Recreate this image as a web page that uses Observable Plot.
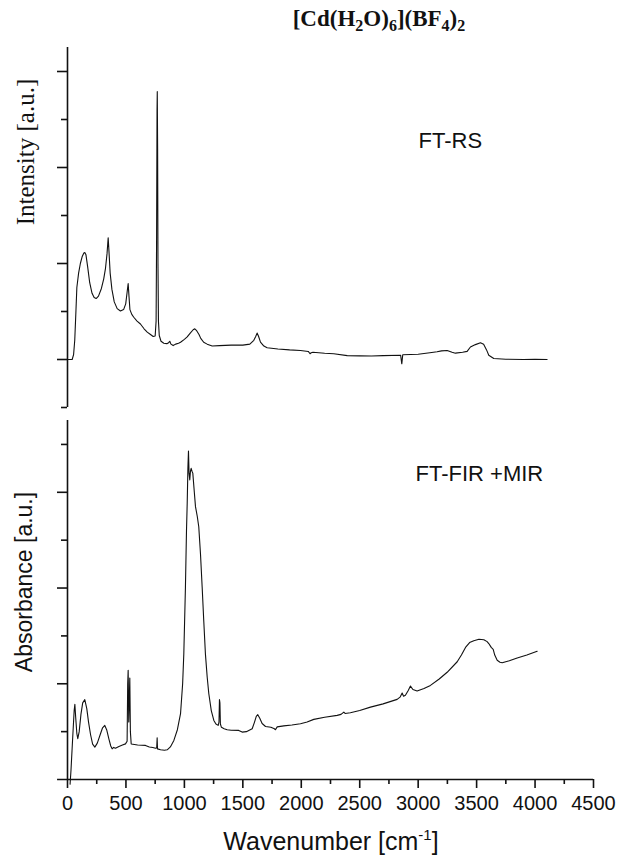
<!DOCTYPE html>
<html>
<head>
<meta charset="utf-8">
<script src="https://cdn.jsdelivr.net/npm/d3@7"></script>
<script src="https://cdn.jsdelivr.net/npm/@observablehq/plot@0.6"></script>
<style>
  html, body { margin: 0; padding: 0; background: #fff; }
  #fig { position: relative; width: 620px; height: 861px; background: #fff; overflow: hidden; }
  #fig svg { position: absolute; left: 0; }
  .lbl { position: absolute; white-space: nowrap; color: #111; line-height: 1; }
  .title { font-family: "Liberation Serif", serif; font-weight: bold; font-size: 23px; left: 379px; top: 7px; transform: translateX(-50%); }
  .title sub { font-size: 16px; vertical-align: -5px; }
  .ylab { transform: translate(-50%, -50%) rotate(-90deg); }
  .xlab { font-family: "Liberation Sans", Arial, sans-serif; font-size: 25px; left: 331px; top: 827px; transform: translateX(-50%); }
  .xlab sup { font-size: 15px; vertical-align: 10px; }
</style>
</head>
<body>
<div id="fig"></div>
<script>
// FT-Raman spectrum (upper panel): Raman shift in cm^-1 and intensity in a.u.
const ramanShift = [0, 40, 52, 62, 72, 80, 95, 110, 125, 140, 148, 158, 172, 190, 210, 228, 245, 265, 290, 310,
  325, 338, 348, 356, 365, 380, 400, 425, 453, 480, 498, 510, 519, 526, 534, 550, 567, 595, 624, 655,
  682, 710, 733, 750, 758, 762, 766, 768, 771, 774, 778, 785, 800, 824, 850, 865, 875, 885, 904, 925,
  950, 967, 1000, 1024, 1050, 1075, 1089, 1105, 1125, 1140, 1165, 1195, 1238, 1300, 1400, 1500, 1560, 1594, 1610, 1622,
  1635, 1651, 1680, 1708, 1800, 1900, 1993, 2060, 2075, 2085, 2100, 2200, 2278, 2393, 2500, 2600, 2700, 2850, 2860, 2868,
  3000, 3100, 3162, 3200, 3248, 3290, 3319, 3380, 3419, 3447, 3490, 3533, 3560, 3585, 3604, 3647, 3750, 3900, 4000, 4103];
const ramanIntensity = [0, 0, 0.05, 0.2, 0.5, 0.75, 0.9, 1.0, 1.07, 1.11, 1.115, 1.09, 0.97, 0.8, 0.69, 0.645, 0.635, 0.66, 0.74, 0.84,
  0.95, 1.1, 1.268, 1.1, 0.9, 0.73, 0.6, 0.53, 0.505, 0.52, 0.58, 0.7, 0.79, 0.66, 0.52, 0.47, 0.44, 0.4, 0.37, 0.32,
  0.285, 0.26, 0.24, 0.245, 0.4, 1.2, 2.6, 2.79, 2.2, 1.0, 0.4, 0.25, 0.19, 0.17, 0.165, 0.175, 0.19, 0.16, 0.145, 0.16,
  0.17, 0.18, 0.21, 0.235, 0.275, 0.31, 0.32, 0.3, 0.26, 0.22, 0.18, 0.16, 0.14, 0.145, 0.15, 0.15, 0.16, 0.2, 0.24, 0.275,
  0.24, 0.181, 0.14, 0.122, 0.11, 0.1, 0.094, 0.084, 0.06, 0.07, 0.075, 0.065, 0.06, 0.04, 0.038, 0.036, 0.04, 0.045, -0.045, 0.05,
  0.055, 0.07, 0.08, 0.09, 0.094, 0.075, 0.066, 0.075, 0.085, 0.13, 0.155, 0.175, 0.16, 0.1, 0.045, 0.01, 0.003, 0, 0.002, 0];

// FT-FIR + MIR absorption spectrum (lower panel): wavenumber in cm^-1 and absorbance in a.u.
const irWavenumber = [22, 30, 45, 57, 63, 70, 80, 88, 100, 115, 130, 148, 165, 180, 197, 215, 234, 255, 280, 300,
  319, 335, 355, 370, 382, 395, 410, 440, 470, 496, 510, 515, 519, 524, 528, 533, 538, 545, 600, 667,
  700, 730, 753, 763, 767, 770, 796, 830, 853, 880, 910, 940, 967, 985, 995, 1009, 1018, 1024, 1030, 1035,
  1040, 1046, 1052, 1058, 1065, 1072, 1085, 1095, 1110, 1123, 1138, 1152, 1166, 1180, 1195, 1209, 1230, 1252, 1270, 1289,
  1296, 1300, 1304, 1308, 1317, 1340, 1366, 1400, 1465, 1494, 1530, 1580, 1600, 1615, 1628, 1645, 1665, 1694, 1740, 1770,
  1779, 1794, 1850, 1920, 1993, 2050, 2107, 2200, 2307, 2340, 2364, 2375, 2420, 2500, 2592, 2700, 2820, 2845, 2863, 2875,
  2891, 2915, 2934, 2955, 2991, 3050, 3105, 3180, 3248, 3334, 3370, 3405, 3440, 3476, 3520, 3562, 3590, 3604, 3625, 3642,
  3655, 3676, 3700, 3719, 3780, 3847, 3930, 4018];
const irAbsorbance = [-0.05, 0.1, 0.45, 0.72, 0.785, 0.65, 0.48, 0.426, 0.5, 0.68, 0.8, 0.834, 0.74, 0.6, 0.47, 0.37, 0.338, 0.38, 0.47, 0.54,
  0.565, 0.52, 0.42, 0.35, 0.32, 0.335, 0.327, 0.345, 0.36, 0.372, 0.4, 1.0, 1.14, 0.6, 0.8, 1.06, 0.5, 0.37, 0.36, 0.356,
  0.34, 0.335, 0.327, 0.33, 0.436, 0.32, 0.31, 0.305, 0.31, 0.34, 0.408, 0.52, 0.687, 1.0, 1.31, 2.01, 2.6, 2.88, 3.25, 3.43,
  3.2, 3.13, 3.22, 3.25, 3.22, 3.2, 3.0, 2.85, 2.75, 2.64, 2.35, 2.01, 1.65, 1.31, 1.07, 0.896, 0.72, 0.617, 0.58, 0.565,
  0.6, 0.834, 0.8, 0.58, 0.545, 0.53, 0.52, 0.515, 0.513, 0.495, 0.5, 0.53, 0.6, 0.66, 0.677, 0.64, 0.585, 0.554, 0.545, 0.53,
  0.52, 0.55, 0.56, 0.57, 0.583, 0.6, 0.628, 0.65, 0.67, 0.68, 0.704, 0.69, 0.697, 0.72, 0.756, 0.79, 0.837, 0.86, 0.903, 0.87,
  0.88, 0.93, 0.976, 0.94, 0.924, 0.95, 0.983, 1.05, 1.12, 1.23, 1.3, 1.38, 1.43, 1.45, 1.465, 1.46, 1.44, 1.42, 1.38, 1.36,
  1.3, 1.245, 1.225, 1.22, 1.24, 1.27, 1.3, 1.34];

// Axis ticks
const xMajorTicks = [0, 500, 1000, 1500, 2000, 2500, 3000, 3500, 4000, 4500];
const xMinorTicks = [250, 750, 1250, 1750, 2250, 2750, 3250, 3750, 4250];
const ramanMajorTicks = [0, 1, 2, 3];
const ramanMinorTicks = [-0.5, 0.5, 1.5, 2.5];
const irMajorTicks = [1, 2, 3];
const irMinorTicks = [0.5, 1.5, 2.5, 3.5];

const raman = ramanShift.map((x, i) => ({x, y: ramanIntensity[i]}));
const ir = irWavenumber.map((x, i) => ({x, y: irAbsorbance[i]}));

const ink = "#111";
const sans = "'Liberation Sans', Arial, sans-serif";
const xDomain = [0, 4500];

const upper = Plot.plot({
  width: 620, height: 420,
  marginTop: 47, marginBottom: 13, marginLeft: 67, marginRight: 27,
  style: {fontFamily: sans, background: "transparent", overflow: "visible"},
  x: {domain: xDomain, axis: null},
  y: {domain: [-0.5, 3.25], axis: null},
  marks: [
    Plot.ruleX([0], {y1: -0.5, y2: 3.25, stroke: ink, strokeWidth: 1.6}),
    Plot.axisY(ramanMajorTicks, {anchor: "left", label: null, tickSize: 10, tickFormat: () => "", stroke: ink, strokeWidth: 1.6}),
    Plot.axisY(ramanMinorTicks, {anchor: "left", label: null, tickSize: 6, tickFormat: () => "", stroke: ink, strokeWidth: 1.6}),
    Plot.line(raman, {x: "x", y: "y", stroke: ink, strokeWidth: 1.1}),
    Plot.text(["FT-RS"], {frameAnchor: "top-left", dx: 351, dy: 93, textAnchor: "start", lineAnchor: "middle", fontSize: 22, fontFamily: sans, fill: ink})
  ]
});
upper.style.top = "0px";

const lower = Plot.plot({
  width: 620, height: 451,
  marginTop: 10, marginBottom: 82, marginLeft: 67, marginRight: 27,
  style: {fontFamily: sans, background: "transparent", overflow: "visible"},
  x: {domain: xDomain, axis: null},
  y: {domain: [0, 3.75], axis: null},
  marks: [
    Plot.ruleX([0], {y1: 0, y2: 3.75, stroke: ink, strokeWidth: 1.6}),
    Plot.ruleY([0], {x1: -85, x2: 4500, stroke: ink, strokeWidth: 1.6}),
    Plot.axisY(irMajorTicks, {anchor: "left", label: null, tickSize: 10, tickFormat: () => "", stroke: ink, strokeWidth: 1.6}),
    Plot.axisY(irMinorTicks, {anchor: "left", label: null, tickSize: 6, tickFormat: () => "", stroke: ink, strokeWidth: 1.6}),
    Plot.axisX(xMajorTicks, {anchor: "bottom", label: null, tickSize: 9, tickFormat: () => "", stroke: ink, strokeWidth: 1.6}),
    Plot.axisX(xMinorTicks, {anchor: "bottom", label: null, tickSize: 5, tickFormat: () => "", stroke: ink, strokeWidth: 1.6}),
    // tick labels as a text mark so their font size can be set freely
    Plot.text(xMajorTicks, {x: d => d, frameAnchor: "bottom", dy: 24, text: d => String(d), fontSize: 20, fontFamily: sans, fill: ink, lineAnchor: "middle"}),
    Plot.line(ir, {x: "x", y: "y", stroke: ink, strokeWidth: 1.1}),
    Plot.text(["FT-FIR +MIR"], {frameAnchor: "top-left", dx: 348, dy: 53, textAnchor: "start", lineAnchor: "middle", fontSize: 22, fontFamily: sans, fill: ink})
  ]
});
lower.style.top = "410px";

const fig = document.getElementById("fig");
fig.append(upper, lower);

function addLabel(html, cls, css) {
  const d = document.createElement("div");
  d.className = "lbl " + cls;
  d.innerHTML = html;
  Object.assign(d.style, css || {});
  fig.append(d);
}
addLabel("[Cd(H<sub>2</sub>O)<sub>6</sub>](BF<sub>4</sub>)<sub>2</sub>", "title");
addLabel("Intensity [a.u.]", "ylab", {left: "25px", top: "152px", fontFamily: "'Liberation Serif', serif", fontSize: "25px"});
addLabel("Absorbance [a.u.]", "ylab", {left: "24px", top: "582px", fontFamily: sans, fontSize: "23px"});
addLabel("Wavenumber [cm<sup>-1</sup>]", "xlab");
</script>
</body>
</html>
